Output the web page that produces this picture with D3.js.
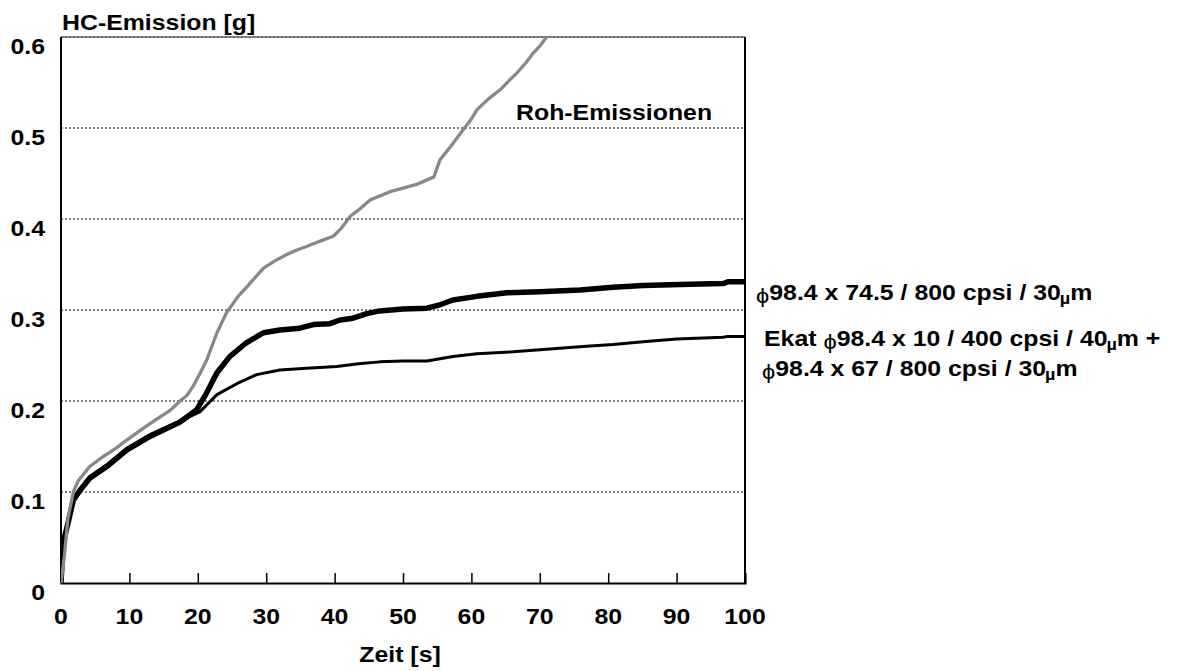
<!DOCTYPE html>
<html>
<head>
<meta charset="utf-8">
<script src="https://cdn.jsdelivr.net/npm/d3@7"></script>
<style>
  body { margin: 0; background: #fff; }
  text { font-family: 'Liberation Sans', Arial, sans-serif; font-weight: bold; font-size: 22px; fill: #000; }
</style>
</head>
<body>
<div id="container"></div>
<script>
var WIDTH = 1182;
var HEIGHT = 671;
var MARGIN = { TOP: 37, BOTTOM: 88, LEFT: 61, RIGHT: 437 };

var width = WIDTH - MARGIN.LEFT - MARGIN.RIGHT;
var height = HEIGHT - MARGIN.TOP - MARGIN.BOTTOM;

// text in the original is a bit wider than plain Arial
var STRETCH = 1.13;

// ---- data ----
const xTicks = [0, 10, 20, 30, 40, 50, 60, 70, 80, 90, 100];
const yTicks = [0, 0.1, 0.2, 0.3, 0.4, 0.5, 0.6];

// Roh-Emissionen (grey)
const rohTime = [0, 0.5, 1, 1.8, 2.5, 4.2, 6, 8, 9.6, 12, 14, 16, 17.4, 18.4, 19.3, 20.3, 21.3, 22.8, 24.2, 25.9,
  27.6, 29.6, 31.5, 33, 34.5, 36, 38, 39.8, 41, 42.3, 43.5, 45.2, 46.5, 48.1, 50, 52, 53.5, 54.5, 55.4, 57,
  58.8, 60, 60.8, 62.5, 64.2, 65.5, 66.6, 68, 69, 70, 71, 73];
const rohValues = [0, 0.03, 0.07, 0.1, 0.112, 0.128, 0.138, 0.148, 0.157, 0.17, 0.18, 0.19, 0.2, 0.206, 0.216, 0.23, 0.245, 0.275, 0.297, 0.315,
  0.329, 0.346, 0.355, 0.361, 0.366, 0.37, 0.376, 0.381, 0.39, 0.403, 0.41, 0.421, 0.425, 0.43, 0.434, 0.438, 0.443, 0.446, 0.465, 0.48,
  0.498, 0.51, 0.52, 0.532, 0.542, 0.552, 0.56, 0.572, 0.582, 0.59, 0.6, 0.62];

// 98.4 x 74.5 / 800 cpsi / 30 um (thick black)
const katTime = [0, 0.3, 1, 1.8, 2.8, 4.2, 6.7, 9.6, 13, 17.4, 19.8, 21.3, 22.8, 24.7, 27.1, 29.6, 32, 34.9, 36.9,
  39.3, 40.8, 42.7, 44.7, 46.6, 50, 53.5, 55.5, 57.3, 60.8, 65.2, 70, 75.9, 80.7, 85.1, 90.5, 96.8, 97.5, 100];
const katValues = [0, 0.044, 0.065, 0.091, 0.102, 0.115, 0.128, 0.146, 0.161, 0.177, 0.19, 0.209, 0.231, 0.249, 0.264, 0.275, 0.278, 0.28, 0.284,
  0.285, 0.289, 0.291, 0.296, 0.299, 0.301, 0.302, 0.306, 0.311, 0.315, 0.319, 0.32, 0.322, 0.325, 0.327, 0.328, 0.329, 0.331, 0.331];

// Ekat + 98.4 x 67 (thin black)
const ekatTime = [0, 0.3, 1, 1.8, 2.8, 4.2, 6.7, 9.6, 13, 17.4, 20.3, 22.8, 25.7, 28.6, 32, 35.9, 40.3, 43.5,
  46.6, 50, 53.5, 57.3, 60.8, 66.1, 71, 76.3, 80.7, 85.1, 90, 96.8, 97.5, 100];
const ekatValues = [0, 0.04, 0.065, 0.093, 0.104, 0.117, 0.13, 0.148, 0.163, 0.178, 0.188, 0.207, 0.219, 0.229, 0.234, 0.236, 0.238, 0.241,
  0.243, 0.244, 0.244, 0.249, 0.252, 0.254, 0.257, 0.26, 0.262, 0.265, 0.268, 0.27, 0.271, 0.271];

const series = [
  { name: 'ekat', time: ekatTime, values: ekatValues, color: '#000', width: 3 },
  { name: 'kat', time: katTime, values: katValues, color: '#000', width: 5.5 },
  { name: 'roh', time: rohTime, values: rohValues, color: '#888', width: 3.3 }
];

const svg = d3.select('#container')
  .append('svg')
    .attr('width', WIDTH)
    .attr('height', HEIGHT);

const container = svg.append('g')
    .attr('transform', `translate(${MARGIN.LEFT}, ${MARGIN.TOP})`);

const x = d3.scaleLinear().domain([0, 100]).range([0, width]);
const y = d3.scaleLinear().domain([0, 0.6]).range([height, 0]);

// put a stretched text at (px, py) in svg coordinates
function label(parent, px, py, txt, anchor) {
  return parent.append('text')
    .attr('transform', `translate(${px}, ${py}) scale(${STRETCH}, 1)`)
    .attr('text-anchor', anchor || 'start')
    .text(txt);
}

svg.append('defs').append('clipPath')
    .attr('id', 'plot-clip')
  .append('rect')
    .attr('x', 0).attr('y', 0)
    .attr('width', width).attr('height', height);

// gridlines (dotted)
container.selectAll('.grid')
  .data(yTicks.filter(d => d > 0))
  .enter()
  .append('line')
    .attr('class', 'grid')
    .attr('x1', 0)
    .attr('x2', width)
    .attr('y1', d => y(d))
    .attr('y2', d => y(d))
    .attr('stroke', '#000')
    .attr('stroke-width', 1.2)
    .attr('stroke-dasharray', '2,2');

// top border gets a faint solid line under the dots
container.append('line')
  .attr('x1', 0).attr('x2', width)
  .attr('y1', y(0.6)).attr('y2', y(0.6))
  .attr('stroke', '#666').attr('stroke-width', 1.5);

// right border
container.append('line')
  .attr('x1', width).attr('x2', width)
  .attr('y1', 0).attr('y2', height)
  .attr('stroke', '#000').attr('stroke-width', 2);

// x axis with inward ticks
const xAxis = container.append('g')
  .attr('transform', `translate(0, ${height})`)
  .call(d3.axisBottom(x).tickValues(xTicks).tickSize(-10).tickFormat(''));
xAxis.select('.domain').attr('stroke', '#000').attr('stroke-width', 2);
xAxis.selectAll('.tick line').attr('stroke', '#000').attr('stroke-width', 1.5);

// y axis line
container.append('line')
  .attr('x1', 0).attr('x2', 0)
  .attr('y1', 0).attr('y2', height)
  .attr('stroke', '#000').attr('stroke-width', 2);

// series
const line = d3.line()
  .x(d => x(d[0]))
  .y(d => y(d[1]));

const plot = container.append('g').attr('clip-path', 'url(#plot-clip)');

series.forEach(s => {
  const pts = s.time.map((t, i) => [t, s.values[i]]);
  plot.append('path')
    .datum(pts)
    .attr('class', 'series ' + s.name)
    .attr('fill', 'none')
    .attr('stroke', s.color)
    .attr('stroke-width', s.width)
    .attr('stroke-linejoin', 'round')
    .attr('d', line);
});

// tick labels
xTicks.forEach(t => {
  label(svg, MARGIN.LEFT + x(t), MARGIN.TOP + height + 41, String(t), 'middle');
});
yTicks.forEach(v => {
  label(svg, 45, MARGIN.TOP + y(v) + 17, v === 0 ? '0' : d3.format('.1f')(v), 'end');
});

// axis titles
label(svg, 62, 30, 'HC-Emission [g]');
label(svg, MARGIN.LEFT + x(50) - 3, 662, 'Zeit [s]', 'middle');

// annotations
label(svg, 516, 120, 'Roh-Emissionen');

function diaLabel(px, py, prefix, body, suffix) {
  const t = svg.append('text')
    .attr('transform', `translate(${px}, ${py}) scale(${STRETCH}, 1)`);
  if (prefix) t.append('tspan').text(prefix);
  t.append('tspan').style('font-size', '21px').style('font-weight', 'normal').attr('dy', 3).text('ϕ');
  t.append('tspan').attr('dy', -3).text(body);
  t.append('tspan').style('font-size', '16px').attr('dx', -1).attr('dy', 4).text('µ');
  t.append('tspan').attr('dy', -4).text('m');
  if (suffix) t.append('tspan').text(suffix);
}

diaLabel(756, 300, '', '98.4 x 74.5 / 800 cpsi / 30');
diaLabel(764, 346, 'Ekat ', '98.4 x 10 / 400 cpsi / 40', ' +');
diaLabel(762, 376, '', '98.4 x 67 / 800 cpsi / 30');
</script>
</body>
</html>
